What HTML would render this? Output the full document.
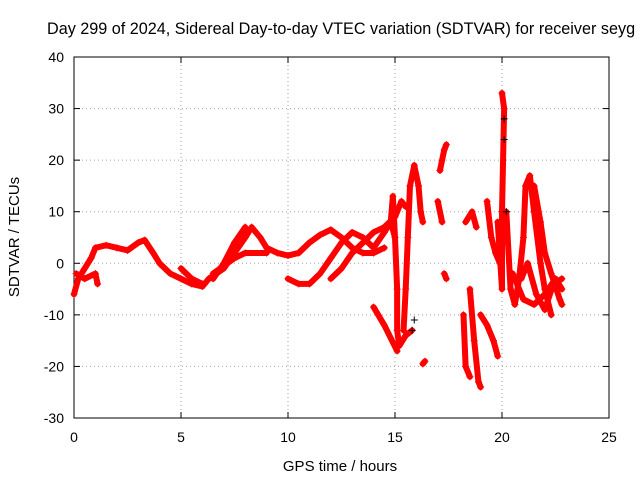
<!DOCTYPE html>
<html><head><meta charset="utf-8"><style>
body{margin:0;background:#fff;}
svg{display:block;font-family:"Liberation Sans",sans-serif;}
</style></head><body>
<svg id="chart" width="640" height="480" viewBox="0 0 640 480" xmlns="http://www.w3.org/2000/svg">
<rect width="640" height="480" fill="#fff"/>
<text x="47" y="34" font-size="16.2" fill="#000">Day 299 of 2024, Sidereal Day-to-day VTEC variation (SDTVAR) for receiver seyg</text>
<g id="grid"></g><g id="axes"></g><g id="marks"></g>
<text x="340" y="471" font-size="15" text-anchor="middle">GPS time / hours</text>
<text transform="translate(19,237) rotate(-90)" font-size="15" text-anchor="middle">SDTVAR / TECUs</text>
</svg>
<script>
const xTicks=[0,5,10,15,20,25];
const yTicks=[-30,-20,-10,0,10,20,30,40];
const trackA=[[0,-6],[0.2,-3],[0.5,-1],[0.8,1],[1,3],[1.5,3.5],[2,3],[2.5,2.5],[3,4],[3.3,4.5],[3.7,2],[4,0],[4.5,-2],[5,-3],[5.5,-4],[6,-4.5],[6.3,-3],[7,-1],[7.5,2],[8,5],[8.3,7],[8.7,5],[9,3],[9.5,2],[10,1.5],[10.5,2],[11,4],[11.5,5.5],[12,6.5],[12.5,5],[13,3],[13.5,2],[14,2],[14.5,3]];
const trackB=[[0.1,-2],[0.5,-3],[1,-2],[1.1,-4]];
const trackC=[[5,-1],[5.5,-3],[6,-4]];
const trackD=[[6.5,-3],[7,0],[7.5,4],[8,7]];
const trackE=[[6.5,-2],[7.5,1],[8,2],[9,2]];
const trackF=[[10,-3],[10.5,-4],[11,-4],[11.5,-2],[12,1],[12.5,4],[13,6],[13.5,5],[14,3],[14.5,6],[14.8,8],[15,5]];
const trackG=[[12,-3],[12.5,-1],[13,2],[13.5,4],[14,6],[14.5,7],[15,9],[15.3,12],[15.5,11]];
const trackH=[[14.8,8],[14.9,13],[15.0,5],[15.1,-5],[15.1,-13],[15.2,-16],[15.5,-14],[15.8,-13]];
const trackI=[[14,-8.5],[14.5,-12],[15.1,-17]];
const trackJ=[[15.4,-13],[15.5,-5],[15.6,5],[15.7,15],[15.9,19],[16.1,15],[16.2,10],[16.3,8]];
const trackK=[[16.3,-19.5],[16.4,-19]];
const trackL=[[17,12],[17.2,8]];
const trackM=[[17.1,18],[17.3,22],[17.4,23]];
const trackN=[[17.3,-2],[17.4,-3]];
const trackO=[[18.2,-10],[18.3,-20],[18.5,-22]];
const trackP=[[18.5,-5],[18.7,-15],[18.9,-23],[19,-24]];
const trackQ=[[18.3,8],[18.6,10],[18.8,7]];
const trackR=[[19,-10],[19.3,-12],[19.6,-15],[19.8,-18]];
const trackS=[[19.3,12],[19.5,5],[19.7,2],[19.9,0]];
const trackT=[[19.8,8],[20,-5],[20,10],[20.1,30],[20,33]];
const trackU=[[20.2,10],[20.4,-5],[20.6,-8],[20.8,-3],[21,5],[21.1,15],[21.3,17],[21.5,10],[21.8,0],[22,-5],[22.3,-10]];
const trackV=[[20.5,-2],[21,-7],[21.5,-8],[22,-6],[22.5,-3],[22.8,-5]];
const trackW=[[21.5,15],[21.8,8],[22,2],[22.3,-2],[22.7,-7],[22.8,-8]];
const trackX=[[20.9,-3],[21.2,0],[21.6,-6],[22,-9],[22.4,-4],[22.8,-3]];
const blackPoints=[[20.1,28],[20.1,24],[20.2,10],[15.9,-11],[15.8,-13]];
const tracks=[trackA,trackB,trackC,trackD,trackE,trackF,trackG,trackH,trackI,trackJ,trackK,trackL,trackM,trackN,trackO,trackP,trackQ,trackR,trackS,trackT,trackU,trackV,trackW,trackX];
const X0=74,X1=609,Y0=418,Y1=57;
const xs=v=>X0+(v-0)/25*(X1-X0);
const ys=v=>Y0-(v+30)/70*(Y0-Y1);
const NS="http://www.w3.org/2000/svg";
function mk(tag,attrs,parent){const e=document.createElementNS(NS,tag);for(const k in attrs)e.setAttribute(k,attrs[k]);parent.appendChild(e);return e;}
const grid=document.getElementById('grid'),axes=document.getElementById('axes'),marks=document.getElementById('marks');
xTicks.forEach(t=>{const x=xs(t);
 if(t>0&&t<25){const g=mk('line',{x1:x,x2:x,y1:Y1,y2:Y0,stroke:'#a0a0a0','stroke-dasharray':'1,3'},grid);
 
 }
 mk('line',{x1:x,x2:x,y1:Y0,y2:Y0-6,stroke:'#000'},axes);mk('line',{x1:x,x2:x,y1:Y1,y2:Y1+6,stroke:'#000'},axes);
 const l=mk('text',{x:x,y:Y0+24,'font-size':14,'text-anchor':'middle'},axes);l.textContent=t;
 
 });
yTicks.forEach(t=>{const y=ys(t);
 if(t>-30&&t<40){const g=mk('line',{x1:X0,x2:X1,y1:y,y2:y,stroke:'#a0a0a0','stroke-dasharray':'1,3'},grid);
 
 }
 mk('line',{x1:X0,x2:X0+6,y1:y,y2:y,stroke:'#000'},axes);mk('line',{x1:X1,x2:X1-6,y1:y,y2:y,stroke:'#000'},axes);
 const l=mk('text',{x:X0-10,y:y+5,'font-size':14,'text-anchor':'end'},axes);l.textContent=t;
 
 });
const frame=mk('rect',{x:X0,y:Y1,width:X1-X0,height:Y0-Y1,fill:'none',stroke:'#000'},axes);


function plus(x,y,c){const p=mk('path',{d:`M${x-3.5},${y}h7M${x},${y-3.5}v7`,stroke:c,'stroke-width':1},marks);return p;}
tracks.forEach(tr=>{
 const pl=mk('polyline',{points:tr.map(p=>xs(p[0])+','+ys(p[1])).join(' '),fill:'none',stroke:'#f00','stroke-width':6,'stroke-linejoin':'round','stroke-linecap':'round'},marks);
 
 
 tr.forEach(p=>{const m=plus(xs(p[0]),ys(p[1]),'#f00');
 
 });
});
blackPoints.forEach(p=>{const m=plus(xs(p[0]),ys(p[1]),'#000');
 
 });
</script>
</body></html>
